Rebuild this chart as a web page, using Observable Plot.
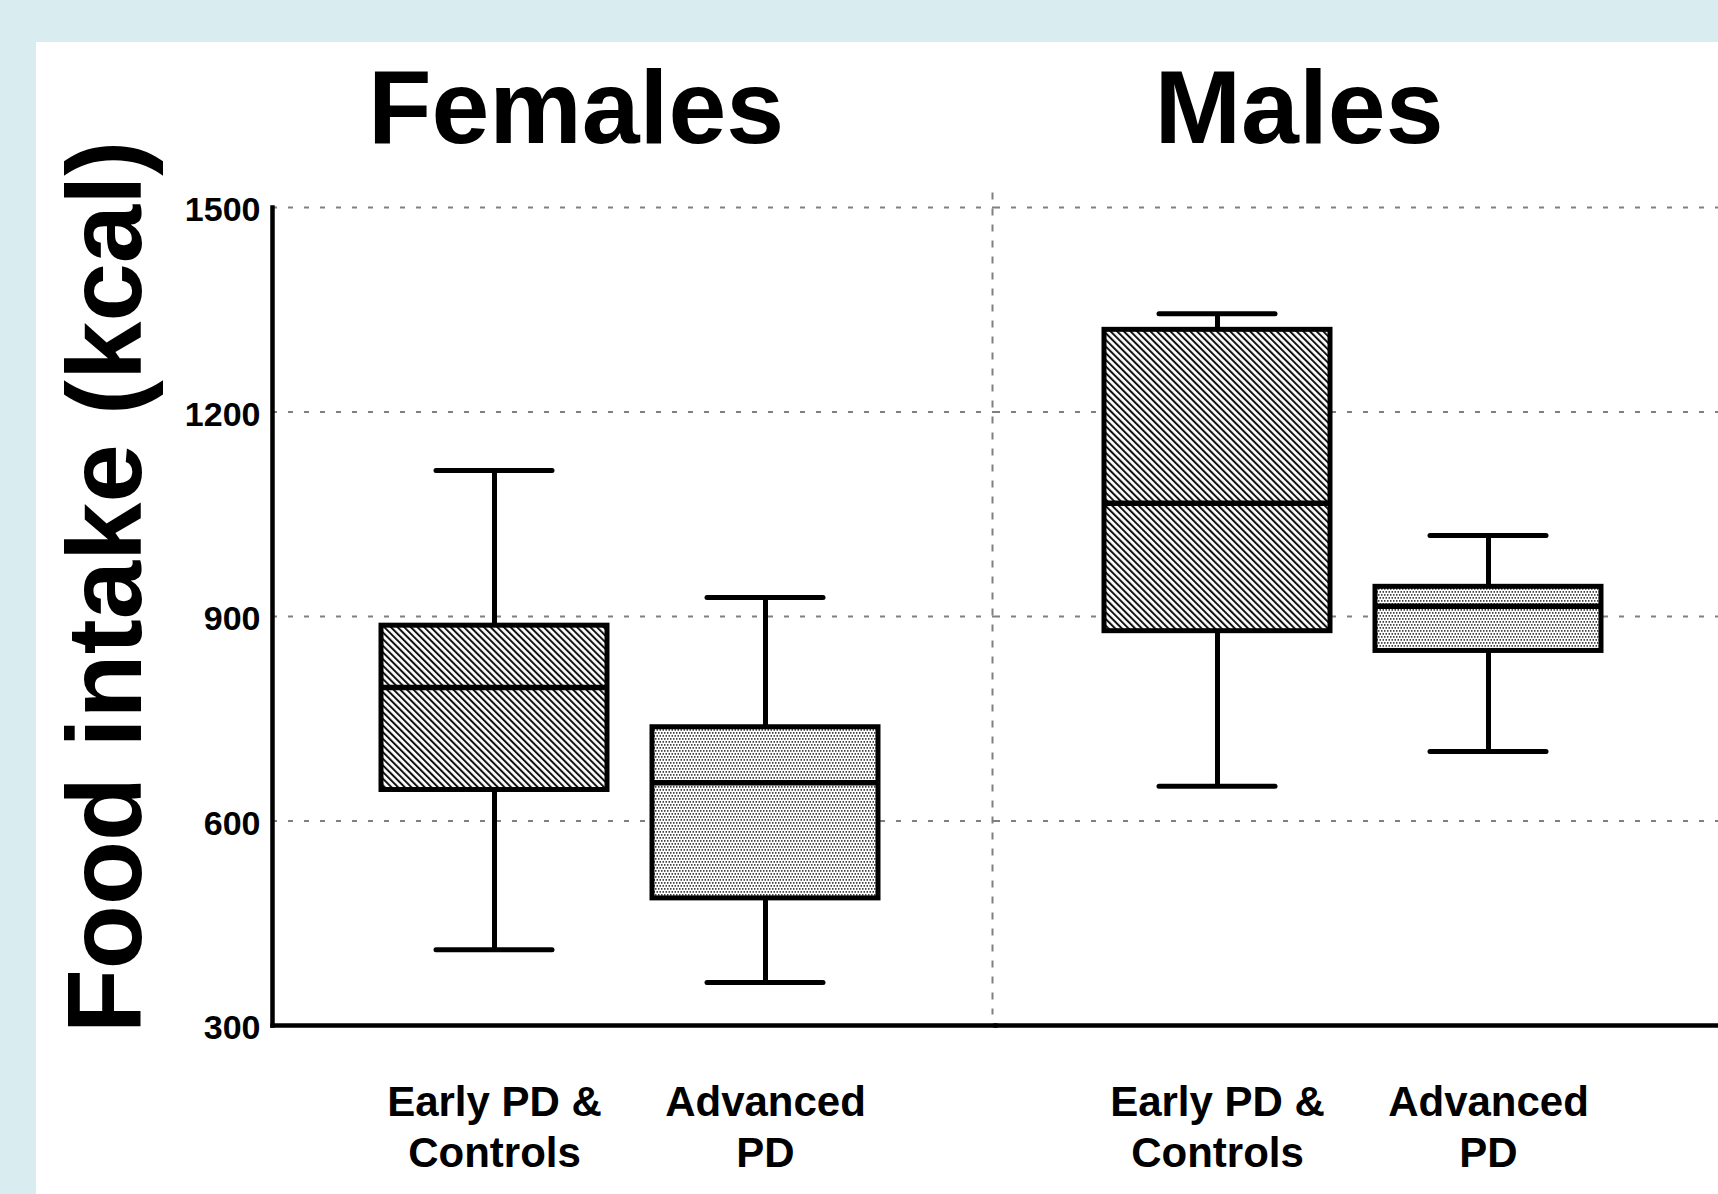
<!DOCTYPE html>
<html>
<head>
<meta charset="utf-8">
<script src="https://cdn.jsdelivr.net/npm/d3@7"></script>
<script src="https://cdn.jsdelivr.net/npm/@observablehq/plot@0.6"></script>
<style>
  html, body { margin: 0; padding: 0; }
  body { width: 1718px; height: 1194px; background: #d9ecef; overflow: hidden; position: relative; font-family: "Liberation Sans", Arial, sans-serif; }
  #panel { position: absolute; left: 36px; top: 42px; width: 1682px; height: 1152px; background: #ffffff; }
  #defs { position: absolute; width: 0; height: 0; }
</style>
</head>
<body>
<svg id="defs" width="0" height="0">
  <defs>
    <pattern id="hatch" patternUnits="userSpaceOnUse" width="4.7" height="4.7" patternTransform="rotate(-45)">
      <rect width="4.7" height="4.7" fill="#ffffff"></rect>
      <line x1="1" y1="-1" x2="1" y2="6" stroke="#111111" stroke-width="2"></line>
    </pattern>
    <pattern id="dots" patternUnits="userSpaceOnUse" width="3" height="6">
      <rect width="3" height="6" fill="#ffffff"></rect>
      <rect x="0" y="0" width="1.5" height="1.8" fill="#444444"></rect>
      <rect x="1.5" y="3" width="1.5" height="1.8" fill="#444444"></rect>
    </pattern>
  </defs>
</svg>
<div id="panel"></div>
<script>
// ---- data ----
const sexes = ["Females", "Males"];
const groups = ["Early PD & Controls", "Advanced PD"];
const xTickLabels = ["Early PD &\nControls", "Advanced\nPD"];
const boxSex = ["Females", "Females", "Males", "Males"];
const boxGroup = ["Early PD & Controls", "Advanced PD", "Early PD & Controls", "Advanced PD"];
const lowWhisker = [411, 363, 651, 702];
const q1 = [644, 485, 877, 848];
const median = [796, 656, 1066, 915];
const q3 = [888, 739, 1322, 945];
const highWhisker = [1114, 928, 1344, 1019];
const yTicks = [300, 600, 900, 1200, 1500];
const gridValues = [600, 900, 1200, 1500];
const yTitle = "Food intake (kcal)";

const boxes = boxSex.map((s, i) => ({
  sex: s, group: boxGroup[i],
  low: lowWhisker[i], q1: q1[i], median: median[i], q3: q3[i], high: highWhisker[i]
}));
const labelOf = g => xTickLabels[groups.indexOf(g)];

const chart = Plot.plot({
  width: 1682,
  height: 1152,
  marginLeft: 235,
  marginRight: 0,
  marginTop: 165,
  marginBottom: 169,
  style: { fontFamily: "'Liberation Sans', Arial, sans-serif", background: "white", color: "black", overflow: "visible" },
  fx: { domain: sexes, padding: 0, axis: null },
  x: { domain: groups, paddingInner: 0.16, paddingOuter: 0.41, align: 0.48, axis: null },
  y: { domain: [300, 1500], axis: null },
  color: { type: "ordinal", domain: groups, range: ["url(#hatch)", "url(#dots)"] },
  marks: [
    Plot.ruleY(gridValues, { stroke: "#808080", strokeWidth: 2, strokeDasharray: "5 11" }),
    Plot.frame({ anchor: "right", facetAnchor: "left", stroke: "#808080", strokeWidth: 2, strokeDasharray: "5 11", insetTop: -14, insetBottom: 12, dx: -3 }),
    Plot.ruleX(boxes, { x: "group", fx: "sex", y1: "low", y2: "high", stroke: "black", strokeWidth: 5 }),
    Plot.tickY(boxes, { x: "group", fx: "sex", y: "low", stroke: "black", strokeWidth: 5, inset: 56, strokeLinecap: "round" }),
    Plot.tickY(boxes, { x: "group", fx: "sex", y: "high", stroke: "black", strokeWidth: 5, inset: 56, strokeLinecap: "round" }),
    Plot.barY(boxes, { x: "group", fx: "sex", y1: "q1", y2: "q3", fill: "group", stroke: "black", strokeWidth: 5, inset: 1 }),
    Plot.tickY(boxes, { x: "group", fx: "sex", y: "median", stroke: "black", strokeWidth: 5.5, inset: 1 }),
    Plot.frame({ anchor: "left", facetAnchor: "left", stroke: "black", strokeWidth: 4.5 }),
    Plot.frame({ anchor: "bottom", stroke: "black", strokeWidth: 4.5 }),
    Plot.axisY({ ticks: yTicks, tickSize: 0, tickPadding: 12, fontSize: 34, fontWeight: "bold", label: null, dy: 3, tickFormat: d => String(d) }),
    Plot.text(boxes, { x: "group", fx: "sex", text: d => labelOf(d.group), frameAnchor: "bottom", lineAnchor: "top", dy: 55, fontSize: 42, fontWeight: "bold", lineHeight: 1.2, fill: "black" }),
    Plot.text(sexes, { fx: d => d, text: d => d, frameAnchor: "top", lineAnchor: "bottom", dy: -65, dx: -58, fontSize: 104, fontWeight: "bold", fill: "black" }),
    Plot.text([yTitle], { frameAnchor: "left", facetAnchor: "left", textAnchor: "middle", rotate: -90, lineAnchor: "bottom", dx: -132, dy: -29.5, fontSize: 105, fontWeight: "bold", fill: "black" })
  ]
});
document.getElementById("panel").appendChild(chart);
</script>
</body>
</html>
